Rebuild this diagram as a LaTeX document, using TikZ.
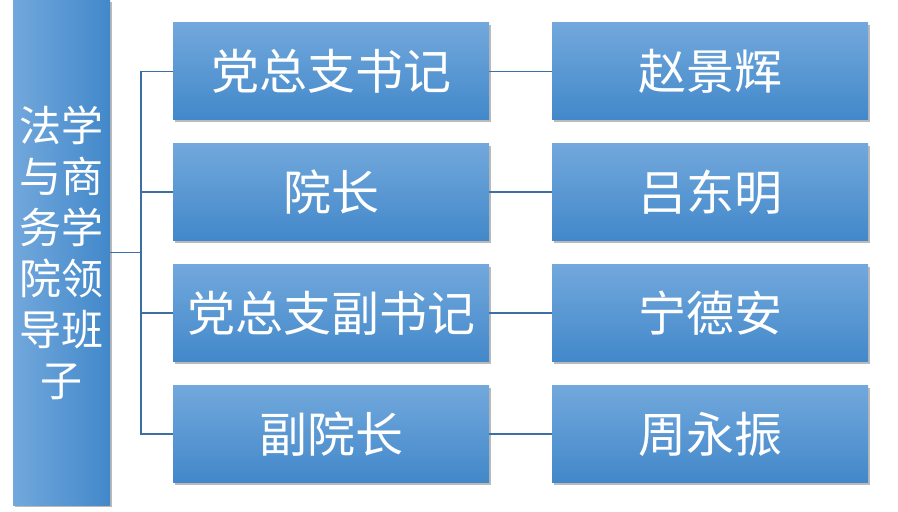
\documentclass[tikz,border=0pt]{standalone}
\usepackage{fontspec}
\setmainfont{Noto Sans CJK SC}
\usepackage{tikz}
\usetikzlibrary{positioning,calc,shadows}
\definecolor{boxtop}{HTML}{72A8DC}
\definecolor{boxmid}{HTML}{579DDD}
\definecolor{boxbot}{HTML}{4288CA}
\definecolor{linkblue}{HTML}{3C6FA6}

\begin{document}
\begin{tikzpicture}[x=0.5pt, y=-0.5pt]
        \tikzset{
            lead/.style={rectangle, minimum width=48.5pt, minimum height=252.5pt, inner sep=0pt, left color=boxtop, right color=boxbot, text=white, align=center, font=\fontsize{21pt}{25.5pt}\selectfont, drop shadow={shadow xshift=1pt, shadow yshift=-1.2pt, fill=black!45, opacity=0.6}},
            post/.style={rectangle, minimum width=158pt, minimum height=48.5pt, inner sep=0pt, top color=boxtop, middle color=boxmid, bottom color=boxbot, text=white, font=\fontsize{24pt}{28pt}\selectfont, drop shadow={shadow xshift=1pt, shadow yshift=-1.2pt, fill=black!45, opacity=0.6}},
            link/.style={draw=linkblue, line width=0.6pt}
        }
        \useasboundingbox (0,0) rectangle (898,512);

        % Left column
        \node [lead] (team) at (61.5, 252.5) {法学\\与商\\务学\\院领\\导班\\子};

        % Posts
        \node [post] (secr) at (331, 71.5) {党总支书记};
        \node [post] (dean) at (331, 192) {院长};
        \node [post] (vsecr) at (331, 313) {党总支副书记};
        \node [post] (vdean) at (331, 434) {副院长};

        % Names
        \node [post] (zhao) at (710, 71.5) {赵景辉};
        \node [post] (lv) at (710, 192) {吕东明};
        \node [post] (ning) at (710, 313) {宁德安};
        \node [post] (zhou) at (710, 434) {周永振};

        % Tree from the left column
        \coordinate (trunk) at (141, 252.5);
        \draw [link] (team.east) -- (trunk);
        \draw [link] (trunk) |- (secr.west);
        \draw [link] (trunk) |- (dean.west);
        \draw [link] (trunk) |- (vsecr.west);
        \draw [link] (trunk) |- (vdean.west);

        % Posts to names
        \draw [link] (secr.east) -- (zhao.west);
        \draw [link] (dean.east) -- (lv.west);
        \draw [link] (vsecr.east) -- (ning.west);
        \draw [link] (vdean.east) -- (zhou.west);
\end{tikzpicture}
\end{document}
